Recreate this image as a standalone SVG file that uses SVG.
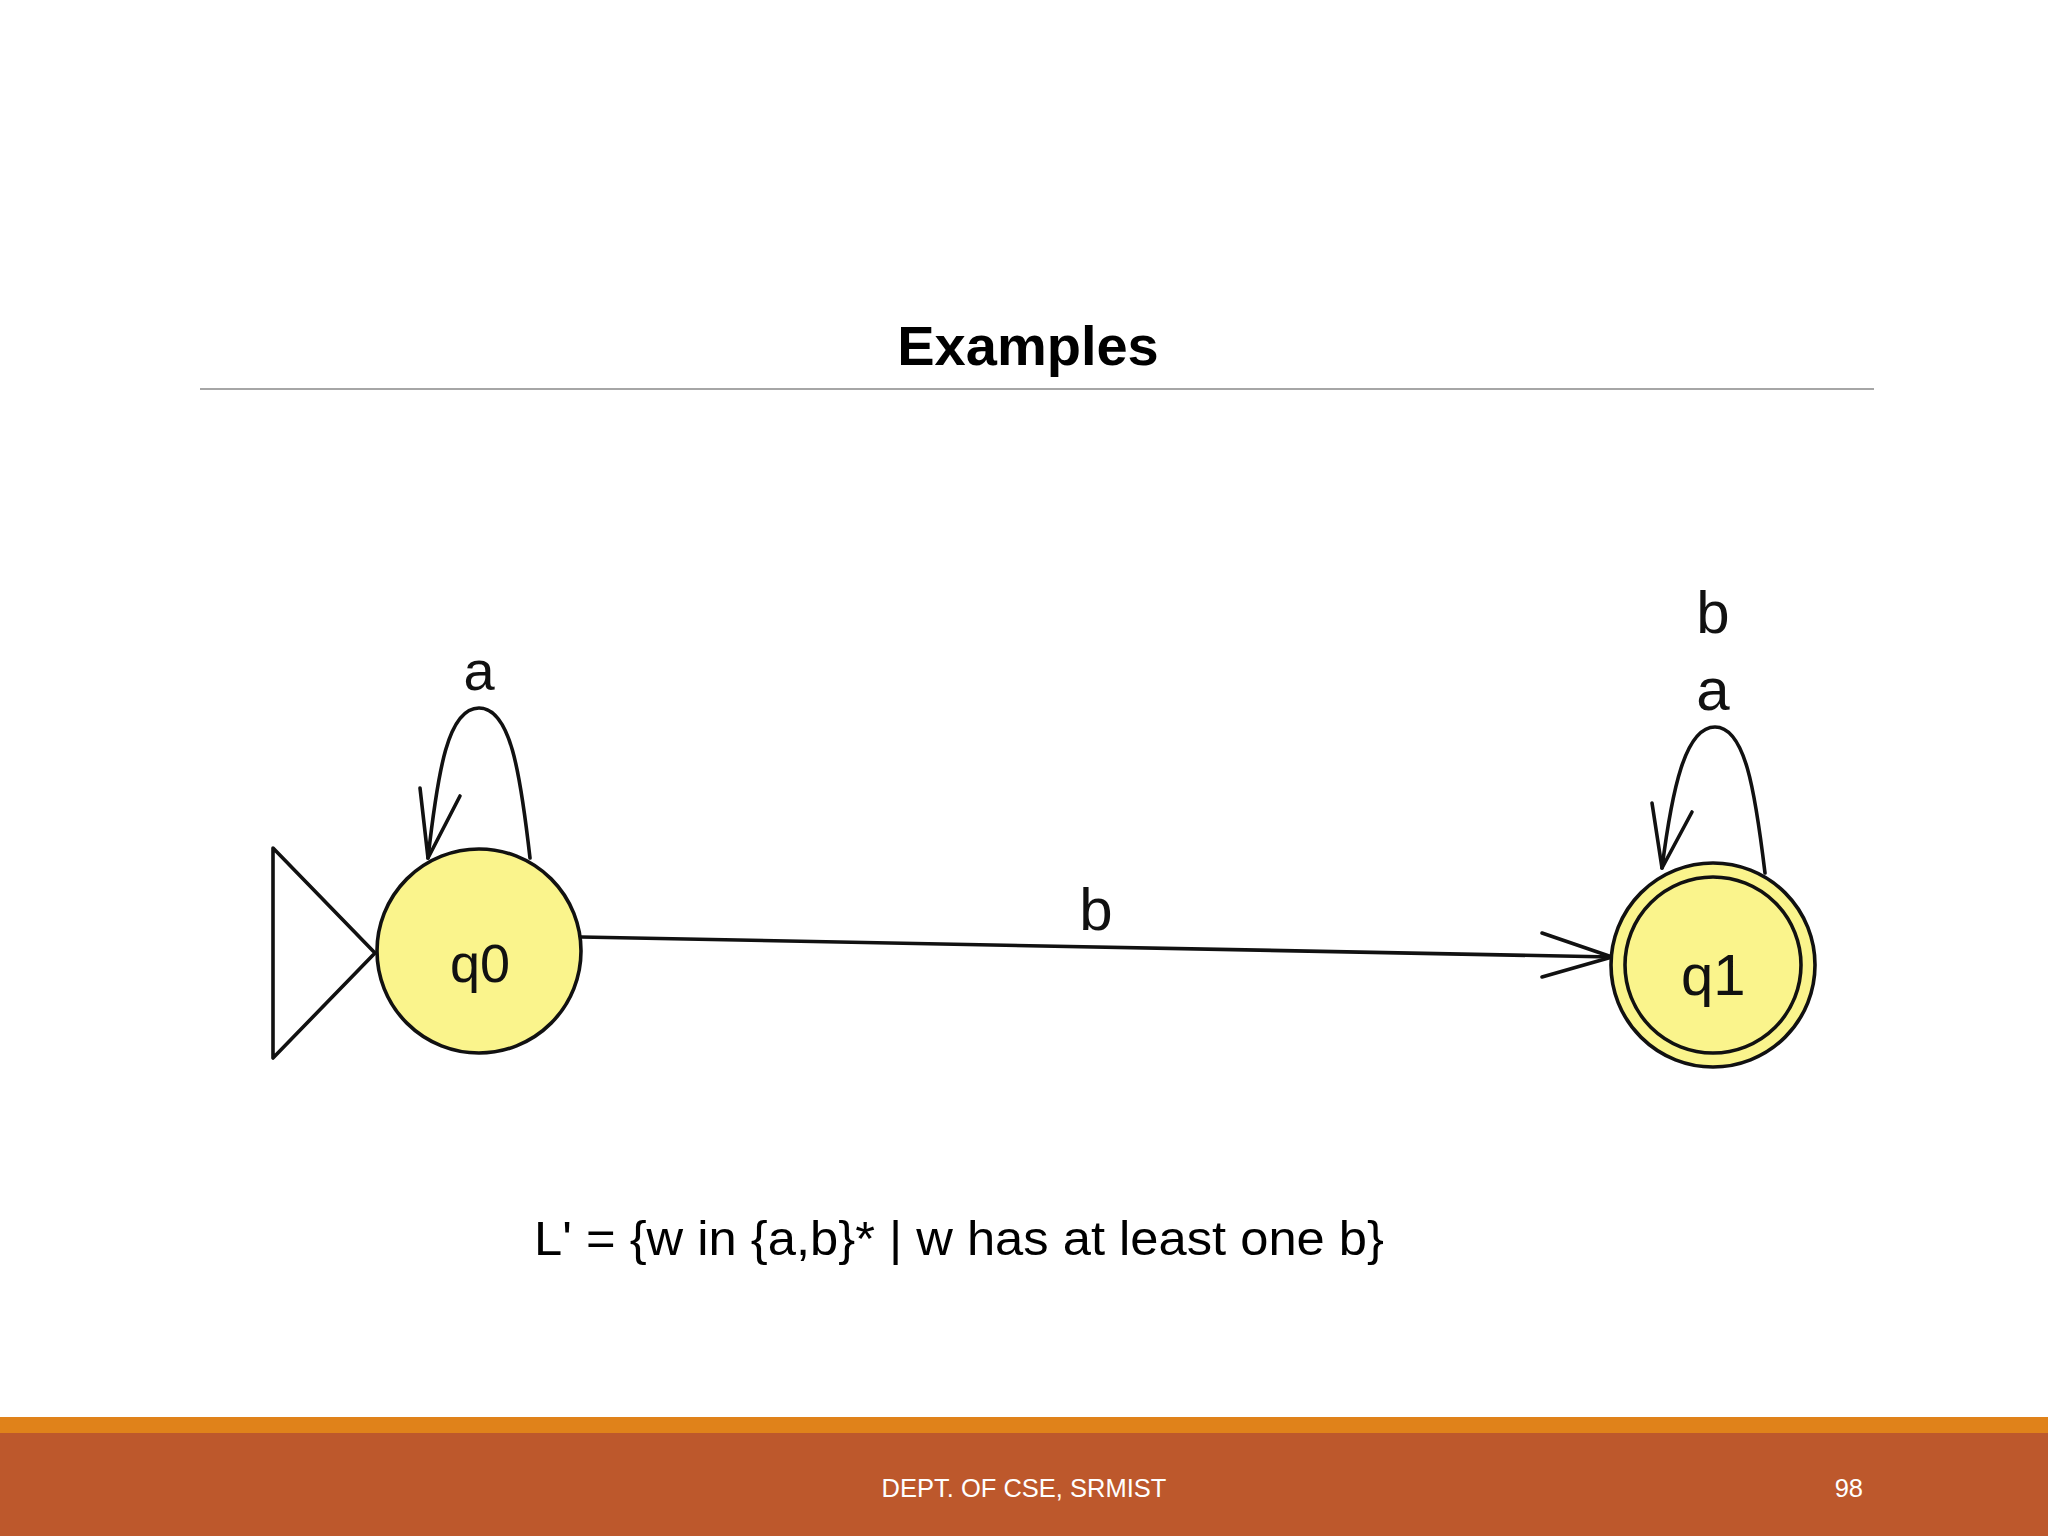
<svg xmlns="http://www.w3.org/2000/svg" width="2048" height="1536" viewBox="0 0 2048 1536">
<defs>
<style>
.st{fill:#FAF48C;stroke:#111;stroke-width:3.6}
.ln{fill:none;stroke:#111;stroke-width:3.6;stroke-linecap:round;stroke-linejoin:round}
.lbl{font-family:"Liberation Sans",Arial,sans-serif;fill:#111}
</style>
</defs>
<rect width="2048" height="1536" fill="#FFFFFF"/>
<g id="title">
<text x="1028" y="365" text-anchor="middle" font-family="Liberation Sans, Arial, sans-serif" font-weight="bold" font-size="56" fill="#000">Examples</text>
<line x1="200" y1="389" x2="1874" y2="389" stroke="#A6A6A6" stroke-width="2"/>
</g>
<g id="connectors">
<polygon class="ln" points="273,848 375,953 273,1058"/>
<path class="ln" d="M530,858 C520,770 510,708 479,708 C448,708 438,770 428,858"/>
<path class="ln" d="M420,788 L428,858 L460,796"/>
<path class="ln" d="M1765,873 C1755,790 1745,727 1715,727 C1685,727 1672,790 1662,868"/>
<path class="ln" d="M1652,803 L1662,868 L1692,812"/>
<line class="ln" x1="581" y1="937" x2="1612" y2="957"/>
<path class="ln" d="M1542,933 L1612,957 L1542,977"/>
<text class="lbl" x="1096" y="930" text-anchor="middle" font-size="60">b</text>
<text class="lbl" x="479" y="690" text-anchor="middle" font-size="56">a</text>
<text class="lbl" x="1713" y="710" text-anchor="middle" font-size="60">a</text>
<text class="lbl" x="1713" y="633" text-anchor="middle" font-size="60">b</text>
</g>
<g id="q0">
<circle class="st" cx="479" cy="951" r="102"/>
<text class="lbl" x="450" y="982" font-size="54">q0</text>
</g>
<g id="q1">
<circle class="st" cx="1713" cy="965" r="102"/>
<circle class="st" cx="1713" cy="965" r="88"/>
<text class="lbl" x="1681" y="995" font-size="58">q1</text>
</g>
<g id="formula">
<text x="534" y="1255" font-family="Liberation Sans, Arial, sans-serif" font-size="48" fill="#000" textLength="850" lengthAdjust="spacingAndGlyphs">L' = {w in {a,b}* | w has at least one b}</text>
</g>
<g id="footer">
<rect x="0" y="1417" width="2048" height="16" fill="#E0821A"/>
<rect x="0" y="1433" width="2048" height="103" fill="#BD582C"/>
<text x="1024" y="1497" text-anchor="middle" font-family="Liberation Sans, Arial, sans-serif" font-size="25.5" fill="#FFFFFF">DEPT. OF CSE, SRMIST</text>
<text x="1863" y="1497" text-anchor="end" font-family="Liberation Sans, Arial, sans-serif" font-size="25.5" fill="#FFFFFF">98</text>
</g>
</svg>
